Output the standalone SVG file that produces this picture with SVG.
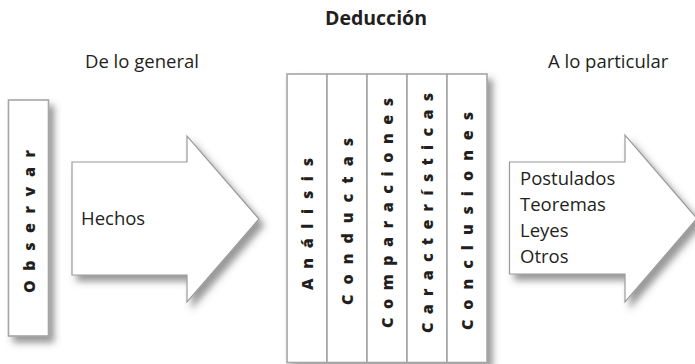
<svg xmlns="http://www.w3.org/2000/svg" width="695" height="364" viewBox="0 0 695 364">
<defs>
<filter id="sh" x="-20%" y="-20%" width="150%" height="150%">
<feDropShadow dx="5" dy="6" stdDeviation="3.5" flood-color="#444" flood-opacity="0.55"/>
</filter>
<style>
.shape{fill:#fff;stroke:#9a9a9a;stroke-width:1.2}
.box{fill:#fff;stroke:#a6a6a6;stroke-width:1.6}
.t{font-family:"Open Sans","Noto Sans","Liberation Sans",sans-serif;font-size:18.5px;fill:#231f20}
.b{font-weight:bold;font-size:19.5px}
.v{font-family:"Open Sans","Noto Sans","Liberation Sans",sans-serif;font-size:16px;font-weight:800;fill:#231f20}
</style>
</defs>
<rect width="695" height="364" fill="#fff"/>
<g id="titles">
<text class="t b" x="376" y="25" text-anchor="middle">Deducción</text>
<text class="t" x="85" y="68">De lo general</text>
<text class="t" x="548" y="68">A lo particular</text>
</g>
<g id="node-observar">
<rect class="box" x="8.5" y="100" width="40" height="236" filter="url(#sh)"/>
<text class="v" transform="translate(35,293) rotate(-90)" textLength="143" lengthAdjust="spacing">Observar</text>
</g>
<g id="node-hechos">
<path class="shape" d="M72,162 H187 V136 L259,219 L187,302 V275 H72 Z" filter="url(#sh)"/>
<text class="t" x="81" y="225">Hechos</text>
</g>
<g id="node-deduccion">
<g filter="url(#sh)">
<rect class="box" x="287" y="74" width="40" height="288.5"/>
<rect class="box" x="327" y="74" width="40" height="288.5"/>
<rect class="box" x="367" y="74" width="40" height="288.5"/>
<rect class="box" x="407" y="74" width="40" height="288.5"/>
<rect class="box" x="447" y="74" width="40" height="288.5"/>
</g>
<text class="v" transform="translate(313,290) rotate(-90)" textLength="132" lengthAdjust="spacing">Análisis</text>
<text class="v" transform="translate(353,305) rotate(-90)" textLength="167" lengthAdjust="spacing">Conductas</text>
<text class="v" transform="translate(393,328) rotate(-90)" textLength="230" lengthAdjust="spacing">Comparaciones</text>
<text class="v" transform="translate(433,333) rotate(-90)" textLength="240" lengthAdjust="spacing">Características</text>
<text class="v" transform="translate(473,330) rotate(-90)" textLength="218" lengthAdjust="spacing">Conclusiones</text>
</g>
<g id="node-resultados">
<path class="shape" d="M509.5,162 H625 V135 L697,218.5 L625,302 V274 H509.5 Z" filter="url(#sh)"/>
<text class="t" x="520" y="185">Postulados</text>
<text class="t" x="520" y="211">Teoremas</text>
<text class="t" x="520" y="237">Leyes</text>
<text class="t" x="520" y="263">Otros</text>
</g>
<g id="connectors"/>
</svg>
